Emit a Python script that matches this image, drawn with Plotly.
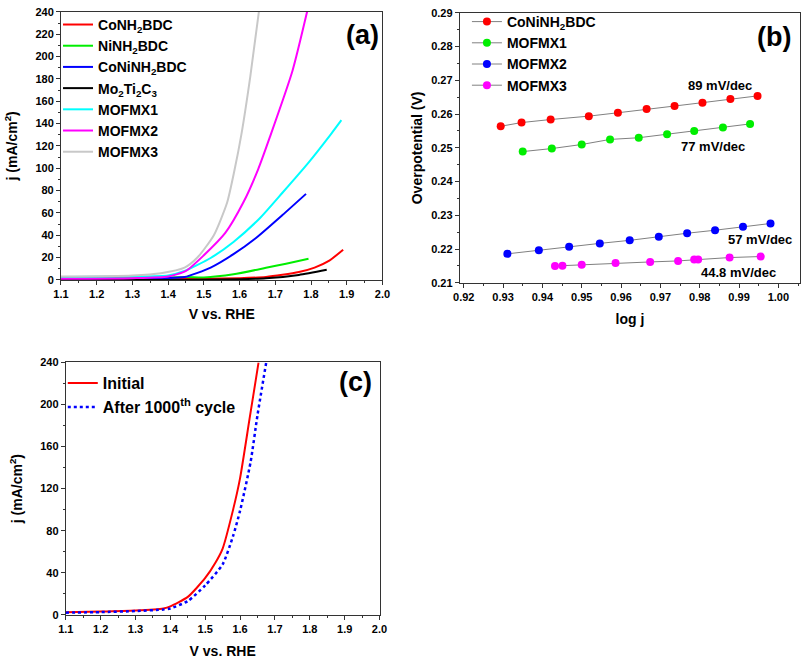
import plotly.graph_objects as go

# ---------- Panel (a) data ----------
co_x = [1.10, 1.30, 1.50, 1.60, 1.674, 1.72, 1.766, 1.81, 1.85, 1.89]
co_y = [0.5, 0.5, 1.0, 1.5, 2.6, 4.5, 7.0, 11.0, 17.0, 27.0]
ni_x = [1.10, 1.30, 1.45, 1.50, 1.583, 1.674, 1.73, 1.793]
ni_y = [1.0, 1.5, 2.5, 2.2, 5.0, 10.8, 14.5, 19.0]
coni_x = [1.10, 1.30, 1.40, 1.446, 1.519, 1.583, 1.646, 1.72, 1.786]
coni_y = [1.0, 1.0, 1.5, 2.5, 11.0, 23.0, 37.5, 58.0, 77.0]
mo_x = [1.10, 1.40, 1.55, 1.674, 1.766, 1.844]
mo_y = [0.0, 0.0, 0.3, 1.4, 4.4, 9.0]
mx1_x = [1.10, 1.30, 1.40, 1.446, 1.519, 1.583, 1.656, 1.72, 1.793, 1.857, 1.885]
mx1_y = [2.5, 3.0, 4.0, 8.0, 19.6, 34.0, 55.0, 78.0, 105.0, 131.0, 143.0]
mx2_x = [1.10, 1.30, 1.40, 1.45, 1.50, 1.56, 1.61, 1.652, 1.685, 1.748, 1.789]
mx2_y = [1.0, 1.5, 3.0, 8.0, 22.0, 42.0, 69.0, 99.0, 128.0, 187.0, 240.0]
mx3_x = [1.10, 1.30, 1.38, 1.446, 1.482, 1.528, 1.565, 1.585, 1.605, 1.63, 1.654]
mx3_y = [3.0, 4.0, 6.0, 11.0, 20.0, 40.0, 69.0, 97.0, 130.0, 182.0, 240.0]

# ---------- Panel (b) data ----------
b_red_x = [0.9294, 0.9347, 0.9421, 0.9518, 0.9592, 0.9665, 0.9736, 0.9807, 0.9878, 0.9947]
b_red_y = [0.2564, 0.2575, 0.2584, 0.2594, 0.2604, 0.2615, 0.2624, 0.2634, 0.2645, 0.2654]
b_grn_x = [0.9350, 0.9424, 0.9500, 0.9572, 0.9645, 0.9717, 0.9786, 0.9859, 0.9928]
b_grn_y = [0.2489, 0.2498, 0.2510, 0.2525, 0.2530, 0.2540, 0.2550, 0.2560, 0.2571]
b_blu_x = [0.9311, 0.9391, 0.9468, 0.9546, 0.9622, 0.9696, 0.9768, 0.9839, 0.9910, 0.9980]
b_blu_y = [0.2186, 0.2197, 0.2207, 0.2217, 0.2226, 0.2237, 0.2247, 0.2256, 0.2266, 0.2276]
b_mag_x = [0.9432, 0.9451, 0.9500, 0.9586, 0.9674, 0.9745, 0.9786, 0.9796, 0.9876, 0.9955]
b_mag_y = [0.2150, 0.2151, 0.2154, 0.2159, 0.2162, 0.2165, 0.2169, 0.2169, 0.2175, 0.2178]
tafel_labels = ["89 mV/dec", "77 mV/dec", "57 mV/dec", "44.8 mV/dec"]

# ---------- Panel (c) data ----------
c_init_x = [1.10, 1.20, 1.30, 1.38, 1.40, 1.45, 1.50, 1.53, 1.55, 1.58, 1.60, 1.627, 1.653]
c_init_y = [2.5, 3.0, 4.0, 6.0, 8.0, 17.0, 35.0, 50.0, 63.0, 100.0, 130.0, 186.0, 240.0]
c_after_x = [1.10, 1.20, 1.30, 1.38, 1.40, 1.45, 1.50, 1.55, 1.58, 1.60, 1.63, 1.65, 1.675]
c_after_y = [2.0, 2.5, 3.5, 5.0, 6.0, 13.0, 28.0, 48.0, 75.0, 99.0, 145.0, 190.0, 240.0]

FONT = "Liberation Sans"
fig = go.Figure()

def line(x, y, name, color, xa, ya, legend, dash="solid", width=2):
    fig.add_trace(go.Scatter(x=x, y=y, name=name, mode="lines",
                             line=dict(color=color, width=width, dash=dash, shape="spline", smoothing=0.6),
                             xaxis=xa, yaxis=ya, legend=legend))

line(co_x, co_y, "<b>CoNH<sub>2</sub>BDC</b>", "#ff0000", "x", "y", "legend")
line(ni_x, ni_y, "<b>NiNH<sub>2</sub>BDC</b>", "#00ee00", "x", "y", "legend")
line(coni_x, coni_y, "<b>CoNiNH<sub>2</sub>BDC</b>", "#0000ff", "x", "y", "legend")
line(mo_x, mo_y, "<b>Mo<sub>2</sub>Ti<sub>2</sub>C<sub>3</sub></b>", "#000000", "x", "y", "legend")
line(mx1_x, mx1_y, "<b>MOFMX1</b>", "#00ffff", "x", "y", "legend")
line(mx2_x, mx2_y, "<b>MOFMX2</b>", "#ff00ff", "x", "y", "legend")
line(mx3_x, mx3_y, "<b>MOFMX3</b>", "#c8c8c8", "x", "y", "legend")

def pts(x, y, name, color):
    fig.add_trace(go.Scatter(x=x, y=y, name=name, mode="lines+markers",
                             line=dict(color="#808080", width=1),
                             marker=dict(color=color, size=8),
                             xaxis="x2", yaxis="y2", legend="legend2"))

pts(b_red_x, b_red_y, "<b>CoNiNH<sub>2</sub>BDC</b>", "#ff0000")
pts(b_grn_x, b_grn_y, "<b>MOFMX1</b>", "#00ee00")
pts(b_blu_x, b_blu_y, "<b>MOFMX2</b>", "#0000ff")
pts(b_mag_x, b_mag_y, "<b>MOFMX3</b>", "#ff00ff")

fig.add_trace(go.Scatter(x=c_init_x, y=c_init_y, name="<b>Initial</b>", mode="lines",
                         line=dict(color="#ff0000", width=2, shape="spline", smoothing=0.6),
                         xaxis="x3", yaxis="y3", legend="legend3"))
fig.add_trace(go.Scatter(x=c_after_x, y=c_after_y, name="<b>After 1000<sup>th</sup> cycle</b>", mode="lines",
                         line=dict(color="#0000ff", width=2.5, dash="dot", shape="spline", smoothing=0.6),
                         xaxis="x3", yaxis="y3", legend="legend3"))

tickfont = dict(family=FONT, size=11, color="black")
titlefont = dict(family=FONT, size=14, color="black")

def ax(domain, anchor, rng, dtick, mdtick, title, fmt=None, standoff=12):
    d = dict(domain=domain, anchor=anchor, range=rng, dtick=dtick, tick0=0,
             showline=True, linecolor="#333", linewidth=1, mirror=True,
             ticks="outside", ticklen=4, tickcolor="#333", showgrid=False, zeroline=False,
             tickfont=tickfont, tickprefix="<b>", ticksuffix="</b>",
             title=dict(text=title, font=titlefont, standoff=standoff),
             minor=dict(dtick=mdtick, ticks="outside", ticklen=2, tickcolor="#333"))
    if fmt:
        d["tickformat"] = fmt
    return d

fig.update_layout(
    width=810, height=661, margin=dict(l=0, r=0, t=0, b=0),
    paper_bgcolor="white", plot_bgcolor="white",
    xaxis=ax([0.0667, 0.4716], "y", [1.1, 2.0], 0.1, 0.05, "<b>V vs. RHE</b>", fmt=".1f", standoff=10),
    yaxis=ax([0.578, 0.991], "x", [0, 240], 20, 10, "<b>j (mA/cm<sup>2</sup>)</b>", standoff=14),
    xaxis2=ax([0.569, 0.9975], "y2", [0.919, 1.0055], 0.01, 0.005, "<b>log j</b>", fmt=".2f", standoff=12),
    yaxis2=ax([0.5734, 0.9894], "x2", [0.21, 0.29], 0.01, 0.005, "<b>Overpotential (V)</b>", fmt=".2f", standoff=5),
    xaxis3=ax([0.0728, 0.4679], "y3", [1.1, 2.0], 0.1, 0.05, "<b>V vs. RHE</b>", fmt=".1f", standoff=12),
    yaxis3=ax([0.062, 0.4508], "x3", [0, 240], 40, 20, "<b>j (mA/cm<sup>2</sup>)</b>", standoff=14),
    legend=dict(x=0.063, y=0.9955, xanchor="left", yanchor="top", bgcolor="rgba(0,0,0,0)",
                font=dict(family=FONT, size=14, color="black"), itemwidth=30),
    legend2=dict(x=0.578, y=1.0, xanchor="left", yanchor="top", bgcolor="rgba(0,0,0,0)",
                 font=dict(family=FONT, size=14, color="black"), itemwidth=30),
    legend3=dict(x=0.069, y=0.445, xanchor="left", yanchor="top", bgcolor="rgba(0,0,0,0)",
                 font=dict(family=FONT, size=16, color="black"), itemwidth=30),
    showlegend=True,
)

ann_font = dict(family=FONT, size=27, color="black")
for t, px, py in [("(a)", 362, 30), ("(b)", 781, 32), ("(c)", 355, 383)]:
    fig.add_annotation(text="<b>%s</b>" % t, x=px/810, y=1-py/661, xref="paper", yref="paper",
                       xanchor="center", yanchor="middle", showarrow=False, font=ann_font)

lab_font = dict(family=FONT, size=13, color="black")
tafel_pos = [(0.9851, 0.2685), (0.9833, 0.2504), (0.9953, 0.2228), (0.9898, 0.2132)]
for t, (px, py) in zip(tafel_labels, tafel_pos):
    fig.add_annotation(text="<b>%s</b>" % t, x=px, y=py, xref="x2", yref="y2",
                       xanchor="center", yanchor="middle", showarrow=False, font=lab_font)

fig.write_html("out.html")
